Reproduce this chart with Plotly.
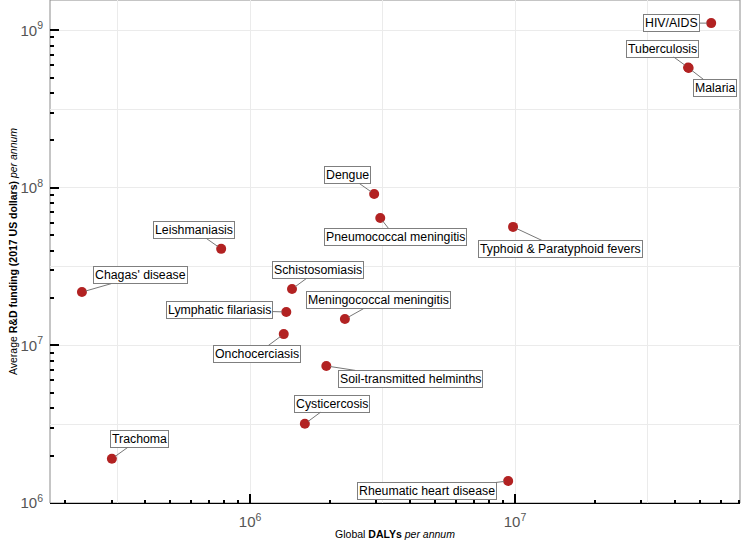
import numpy as np
import plotly.graph_objects as go

diseases = ["HIV/AIDS", "Tuberculosis", "Malaria", "Dengue", "Pneumococcal meningitis",
            "Typhoid & Paratyphoid fevers", "Leishmaniasis", "Chagas' disease",
            "Schistosomiasis", "Lymphatic filariasis", "Meningococcal meningitis",
            "Onchocerciasis", "Soil-transmitted helminths", "Cysticercosis", "Trachoma",
            "Rheumatic heart disease"]
dalys = [5.5e7, 4.5e7, 4.52e7, 2.94e6, 3.1e6, 9.83e6, 7.78e5, 2.32e5, 1.44e6, 1.37e6,
         2.28e6, 1.34e6, 1.94e6, 1.61e6, 3.01e5, 9.42e6]
funding = [1.11e9, 5.8e8, 5.76e8, 9.15e7, 6.44e7, 5.65e7, 4.1e7, 2.18e7, 2.28e7, 1.63e7,
           1.47e7, 1.18e7, 7.41e6, 3.18e6, 1.91e6, 1.38e6]

# label offsets (pixels) from each point, as placed by the repel layout
label_dx = [-40, -26, 26, -27, 15, 47, -27, 59, 26, -67, 34, -27, 84, 27, 28, -81]
label_dy = [0, -19, 20, -19, 19, 22, -19, -17, -19, -2, -19, 20, 13, -20, -20, 10]

FONT = "Liberation Sans, Arial, sans-serif"
GRID = "#ebebeb"

fig = go.Figure()
fig.add_trace(go.Scatter(
    x=dalys, y=funding, mode="markers", text=diseases,
    marker=dict(color="#b22222", size=10, line=dict(width=0)),
    hoverinfo="text", showlegend=False, xaxis="x", yaxis="y"))

for name, xv, yv, dx, dy in zip(diseases, dalys, funding, label_dx, label_dy):
    fig.add_annotation(
        x=np.log10(xv), y=np.log10(yv), xref="x", yref="y",
        text=name, showarrow=True, arrowhead=0, arrowwidth=1, arrowcolor="#777777",
        ax=dx, ay=dy, axref="pixel", ayref="pixel", standoff=4,
        font=dict(family=FONT, size=12.3, color="black"),
        bgcolor="white", bordercolor="#7f7f7f", borderwidth=1, borderpad=1)

xr = [5.245, 7.849]
yr = [6.0, 9.192]

fig.update_layout(
    width=743, height=540,
    margin=dict(l=50, r=3, t=0, b=37, autoexpand=False),
    paper_bgcolor="white", plot_bgcolor="white",
    font=dict(family=FONT, color="black"),
    xaxis=dict(
        type="log", range=xr, dtick=1, exponentformat="power", automargin=False,
        ticks="inside", ticklen=9, tickcolor="black", tickwidth=1.5,
        showgrid=True, gridcolor=GRID, gridwidth=1,
        minor=dict(dtick=0.5, showgrid=True, gridcolor=GRID, gridwidth=0.6, ticks=""),
        showline=True, linecolor="black", linewidth=1,
        zeroline=False, ticklabelstandoff=6,
        tickfont=dict(family=FONT, size=12, color="#555555"),
        title=dict(text="Global <b>DALYs</b> <i>per annum</i>",
                   font=dict(family=FONT, size=10.5, color="black"), standoff=2)),
    yaxis=dict(
        type="log", range=yr, dtick=1, exponentformat="power", automargin=False,
        ticks="inside", ticklen=9, tickcolor="black", tickwidth=1.5,
        showgrid=True, gridcolor=GRID, gridwidth=1,
        minor=dict(dtick=0.5, showgrid=True, gridcolor=GRID, gridwidth=0.6, ticks=""),
        showline=False, zeroline=False, ticklabelstandoff=6,
        tickfont=dict(family=FONT, size=12, color="#555555"),
        title=dict(text="Average <b>R&D funding (2017 US dollars)</b> <i>per annum</i>",
                   font=dict(family=FONT, size=10.5, color="black"), standoff=0)),
    xaxis2=dict(type="log", range=xr, dtick="D1", overlaying="x", anchor="y",
                automargin=False,
                ticks="inside", ticklen=3.5, tickcolor="black", tickwidth=1.5,
                showticklabels=False, showgrid=False, zeroline=False, showline=False),
    yaxis2=dict(type="log", range=yr, dtick="D1", overlaying="y", anchor="x",
                automargin=False,
                ticks="inside", ticklen=3.5, tickcolor="black", tickwidth=1.5,
                showticklabels=False, showgrid=False, zeroline=False, showline=False),
    shapes=[dict(type="rect", xref="paper", yref="paper", x0=0, y0=0, x1=1, y1=1,
                 line=dict(color="#8c8c8c", width=1), layer="below")],
)
# invisible trace so the overlay tick axes are rendered
fig.add_trace(go.Scatter(x=[dalys[0]], y=[funding[0]], xaxis="x2", yaxis="y2",
                         mode="markers", marker=dict(opacity=0), hoverinfo="skip",
                         showlegend=False))

fig.write_html("out.html", config={"displayModeBar": False},
               post_script="document.body.style.margin='0';")
